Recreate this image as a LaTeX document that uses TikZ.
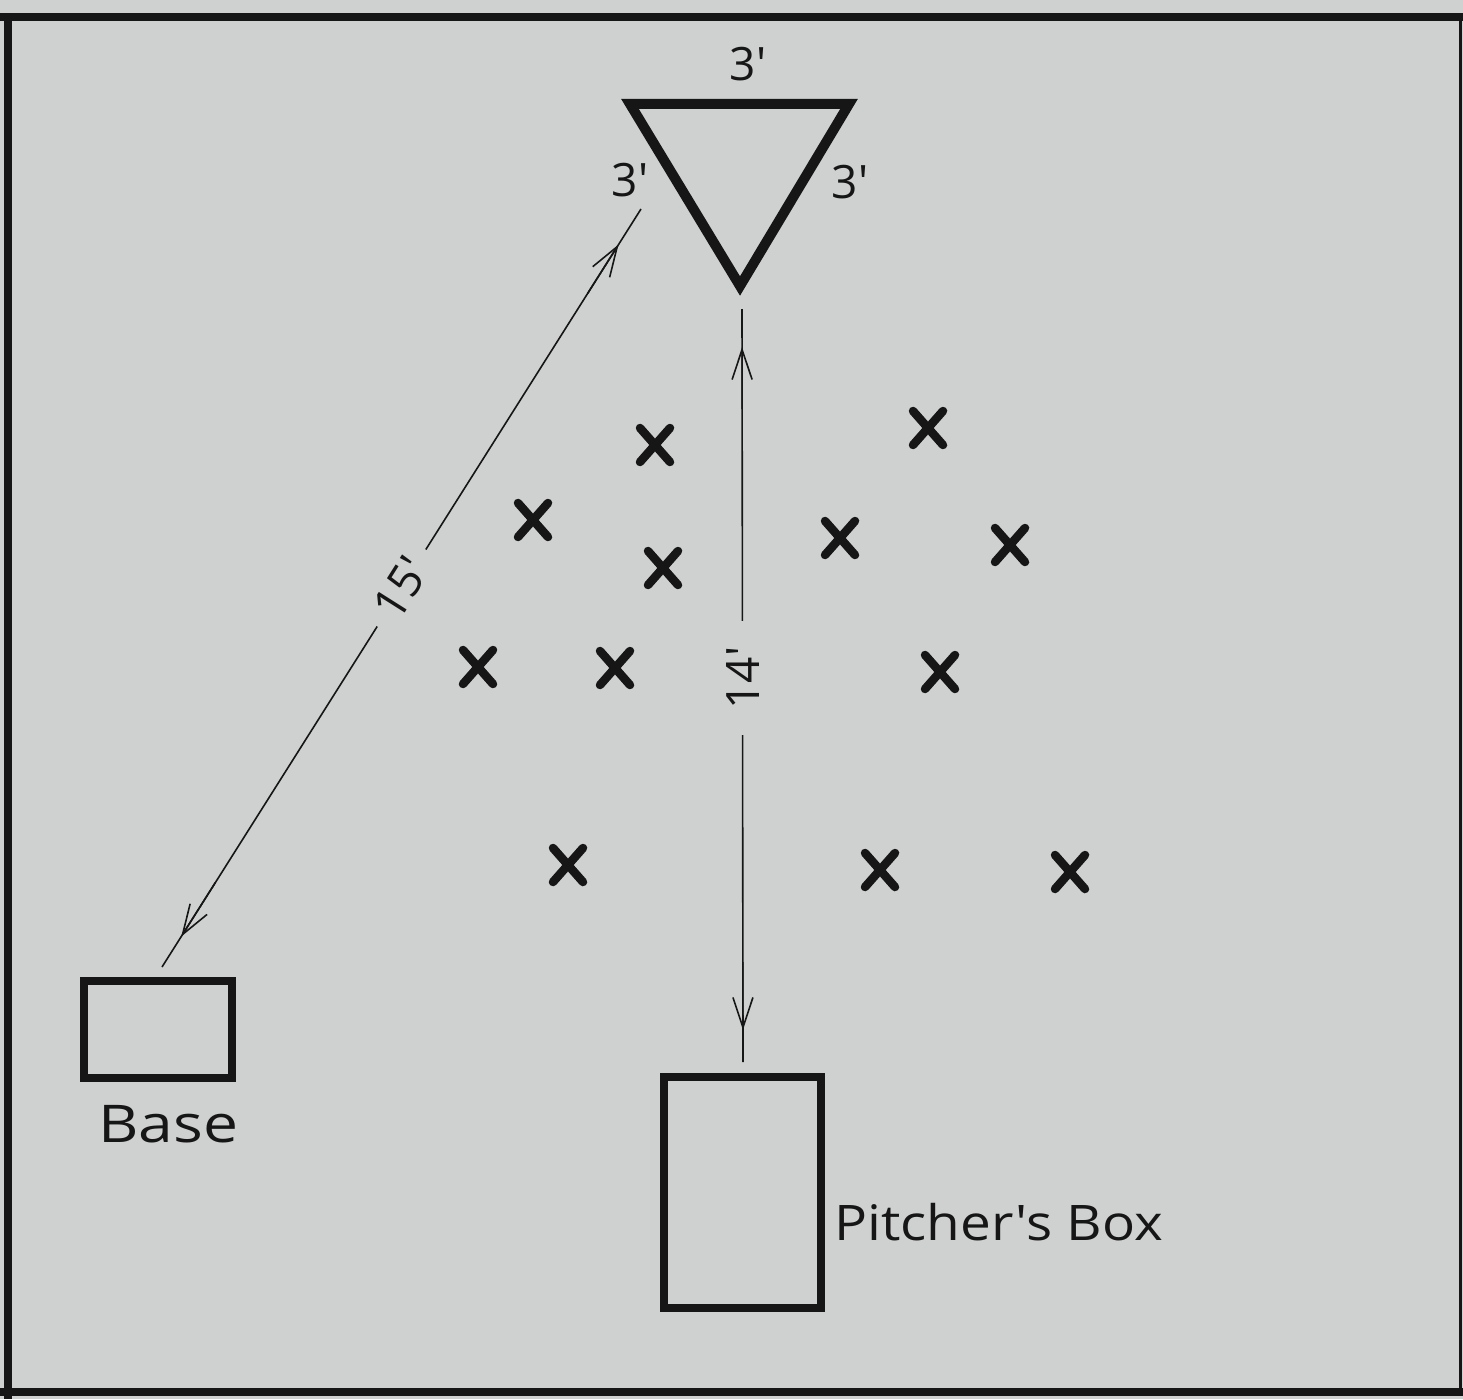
\documentclass[tikz,border=0pt]{standalone}
\usepackage{fontspec}
\newfontfamily\hand{Open Sans}
\usetikzlibrary{arrows.meta,calc}
\definecolor{bg}{RGB}{207,208,208}
\definecolor{ink}{RGB}{22,22,22}
\tikzset{
  frameline/.style={ink,line width=8pt},
  thickshape/.style={ink,line width=10pt,line join=miter},
  boxshape/.style={ink,line width=8pt},
  dim/.style={ink,line width=1.6pt},
  dimtip/.style={ink,line width=1.6pt,-{Straight Barb[length=30pt,width=20pt]}},
  xmark/.style={ink,line width=8.5pt,line cap=round},
  lbl/.style={text=ink,font=\hand\fontsize{46}{46}\selectfont,inner sep=0pt},
  dimlbl/.style={fill=bg,text=ink,font=\hand\fontsize{46}{46}\selectfont,inner xsep=14pt,inner ysep=2pt},
  caption/.style={text=ink,inner sep=0pt}
}
\newcommand{\xm}[2]{\draw[xmark] (#1-15,#2-17) -- (#1+15,#2+17) (#1+15,#2-17) -- (#1-15,#2+17);}
\begin{document}
\begin{tikzpicture}[x=1pt,y=-1pt]
\useasboundingbox (0,0) rectangle (1463,1399);
\fill[bg] (0,0) rectangle (1463,1399);
% frame
\draw[frameline] (0,17) -- (1463,17);
\draw[frameline] (8,17) -- (8,1399);
\draw[frameline] (0,1392) -- (1463,1392);
\draw[ink,line width=3pt] (1460,17) -- (1460,1392);
% triangle
\coordinate (tl) at (630,104);
\coordinate (tr) at (849,104);
\coordinate (tb) at (740,286);
\draw[thickshape] (tl) -- (tr) -- (tb) -- cycle;
\node[lbl] (lt) at (748,64) {3'};
\node[lbl] (ll) at (630,180) {3'};
\node[lbl] (lr) at (850,182) {3'};
% boxes
\node[boxshape,draw,minimum width=148pt,minimum height=97pt,inner sep=0pt] (base) at (158,1029.5) {};
\node[caption,anchor=west,font=\hand\fontsize{52}{52}\selectfont,xscale=1.2] (basel) at (98,1124) {Base};
\node[boxshape,draw,minimum width=157pt,minimum height=231pt,inner sep=0pt] (pbox) at (742.5,1192.5) {};
\node[caption,anchor=west,font=\hand\fontsize{49}{49}\selectfont,xscale=1.12] (pboxl) at (834,1222) {Pitcher's Box};
% dimension lines
\coordinate (d1a) at (162,967);
\coordinate (d1b) at (641,209);
\draw[dim] (d1a) -- node[dimlbl,rotate=57.7] (l15) {15'} (d1b);
\draw[dimtip] ($(d1b)!100pt!(d1a)$) -- ($(d1b)!42pt!(d1a)$);
\draw[dimtip] ($(d1a)!100pt!(d1b)$) -- ($(d1a)!36pt!(d1b)$);
\coordinate (d2a) at (742,309);
\coordinate (d2b) at (743,1062);
\draw[dim] (d2a) -- node[dimlbl,rotate=90,inner xsep=26pt,pos=0.49] (l14) {14'} (d2b);
\draw[dimtip] ($(d2a)!100pt!(d2b)$) -- ($(d2a)!38pt!(d2b)$);
\draw[dimtip] ($(d2b)!100pt!(d2a)$) -- ($(d2b)!32pt!(d2a)$);
% players
\xm{655}{445}
\xm{928}{428}
\xm{533}{520}
\xm{663}{568}
\xm{840}{538}
\xm{1010}{545}
\xm{478}{667}
\xm{615}{668}
\xm{940}{672}
\xm{568}{865}
\xm{880}{870}
\xm{1070}{872}
\end{tikzpicture}
\end{document}
